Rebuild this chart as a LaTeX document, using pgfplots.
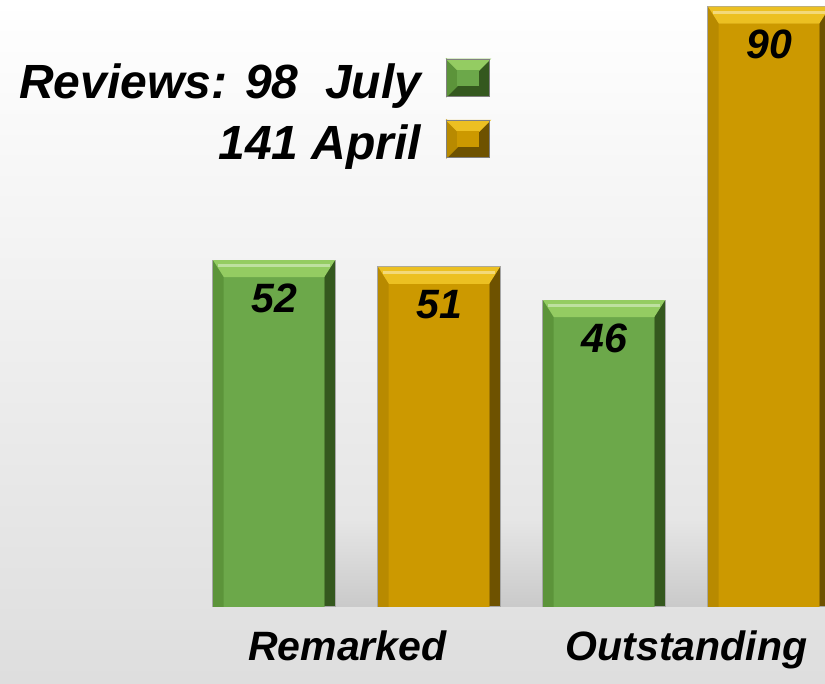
\documentclass[border=0pt]{standalone}
\usepackage{pgfplots}
\usepackage{pgfplotstable}
\pgfplotsset{compat=1.18}
\usepackage{fontspec}
\setmainfont{Liberation Sans}

\definecolor{grn}{RGB}{108,168,74}
\definecolor{grnL}{RGB}{148,204,98}
\definecolor{grnM}{RGB}{92,148,58}
\definecolor{grnD}{RGB}{52,88,30}
\definecolor{gld}{RGB}{204,153,0}
\definecolor{gldL}{RGB}{236,192,34}
\definecolor{gldM}{RGB}{184,138,0}
\definecolor{gldD}{RGB}{110,82,0}

% July (green) and April (gold) reviews
\pgfplotstableread{
x v
0 52
2 46
}\july
\pgfplotstableread{
x v
1 51
3 90
}\april

% top bevel of a bar, sitting on the bar's top edge
\pgfdeclareplotmark{bevtop}{%
 \pgfpathmoveto{\pgfqpoint{-30.5pt}{0pt}}%
 \pgfpathlineto{\pgfqpoint{30.5pt}{0pt}}%
 \pgfpathlineto{\pgfqpoint{25.1pt}{-8.5pt}}%
 \pgfpathlineto{\pgfqpoint{-25.1pt}{-8.5pt}}%
 \pgfpathclose\pgfusepathqfill
 \pgfscope
 \pgfsetfillcolor{white}\pgfsetfillopacity{0.4}%
 \pgfpathrectangle{\pgfqpoint{-28pt}{-3.6pt}}{\pgfqpoint{56pt}{1.6pt}}%
 \pgfusepathqfill
 \endpgfscope}

\newcommand{\bigbi}{\fontsize{24}{28}\selectfont\bfseries\itshape}
\newcommand{\midbi}{\fontsize{20.5}{24}\selectfont\bfseries\itshape}

\begin{document}
\begin{tikzpicture}
\useasboundingbox (0,-38.5pt) rectangle (412.5pt,303.5pt);
\shade[top color=white, bottom color=black!13] (0,-38.5pt) rectangle (412.5pt,303.5pt);
\begin{axis}[at={(0,0)}, anchor=south west, scale only axis,
 width=412.5pt, height=303.5pt,
 xmin=-1.661, xmax=3.339, ymin=0, ymax=91, clip=true,
 axis line style={draw=none}, tick style={draw=none}, ytick=\empty,
 xtick={0.445,2.5}, xticklabels={Remarked,Outstanding},
 xticklabel style={font=\midbi, anchor=base, yshift=-27pt},
 bar shift=0pt,
 /pgf/number format/assume math mode=true,
 nodes near coords style={font=\midbi, text=black, anchor=center, yshift=-19pt},
 legend cell align=right, legend plot pos=right,
 legend style={at={(rel axis cs:0.595,0.904)}, anchor=north east,
   draw=none, fill=none, inner sep=0pt, row sep=3.5pt, column sep=10.5pt,
   font=\bigbi, nodes={inner sep=2pt, text height=17.5pt, text depth=5pt}}]

% soft floor shadows in the gaps
\shade[top color=black!10, middle color=black!28, bottom color=black!21]
 (axis cs:0.37,0) rectangle (axis cs:0.63,13);
\shade[top color=black!10, middle color=black!28, bottom color=black!21]
 (axis cs:1.37,0) rectangle (axis cs:1.63,13);
\shade[top color=black!10, middle color=black!28, bottom color=black!21]
 (axis cs:2.37,0) rectangle (axis cs:2.63,13);

% green bars: dark rim, left bevel, face, top bevel
\addplot[ybar, fill=grnD, draw=gray!70, line width=0.6pt,
 bar width=0.74, nodes near coords,
 legend image code/.code={
  \fill[grnD] (0,-5pt) rectangle (21.5pt,13.5pt);
  \fill[grnM] (0,-5pt) -- (0,13.5pt) -- (5.5pt,8pt) -- (5.5pt,0.5pt) -- cycle;
  \fill[grnL] (0,13.5pt) -- (21.5pt,13.5pt) -- (16pt,8pt) -- (5.5pt,8pt) -- cycle;
  \fill[grn] (5.5pt,0.5pt) rectangle (16pt,8pt);
  \draw[gray, fill=none] (0,-5pt) rectangle (21.5pt,13.5pt);}]
 table[x=x, y=v] {\july};
\addplot[ybar, forget plot, fill=grnM, draw=none, bar width=0.675, bar shift=-0.0325]
 table[x=x, y expr=\thisrow{v}-0.1] {\july};
\addplot[ybar, forget plot, fill=grn, draw=none, bar width=0.61]
 table[x=x, y expr=\thisrow{v}-2.55] {\july};
\addplot[forget plot, sharp plot, only marks, mark=bevtop,
 mark options={fill=grnL, draw=none}]
 table[x=x, y=v] {\july};

% gold bars
\addplot[ybar, fill=gldD, draw=gray!70, line width=0.6pt,
 bar width=0.74, nodes near coords,
 legend image code/.code={
  \fill[gldD] (0,-5pt) rectangle (21.5pt,13.5pt);
  \fill[gldM] (0,-5pt) -- (0,13.5pt) -- (5.5pt,8pt) -- (5.5pt,0.5pt) -- cycle;
  \fill[gldL] (0,13.5pt) -- (21.5pt,13.5pt) -- (16pt,8pt) -- (5.5pt,8pt) -- cycle;
  \fill[gld] (5.5pt,0.5pt) rectangle (16pt,8pt);
  \draw[gray, fill=none] (0,-5pt) rectangle (21.5pt,13.5pt);}]
 table[x=x, y=v] {\april};
\addplot[ybar, forget plot, fill=gldM, draw=none, bar width=0.675, bar shift=-0.0325]
 table[x=x, y expr=\thisrow{v}-0.1] {\april};
\addplot[ybar, forget plot, fill=gld, draw=none, bar width=0.61]
 table[x=x, y expr=\thisrow{v}-2.55] {\april};
\addplot[forget plot, sharp plot, only marks, mark=bevtop,
 mark options={fill=gldL, draw=none}]
 table[x=x, y=v] {\april};

\legend{Reviews: 98~ July, 141 April}
\end{axis}
\end{tikzpicture}
\end{document}
